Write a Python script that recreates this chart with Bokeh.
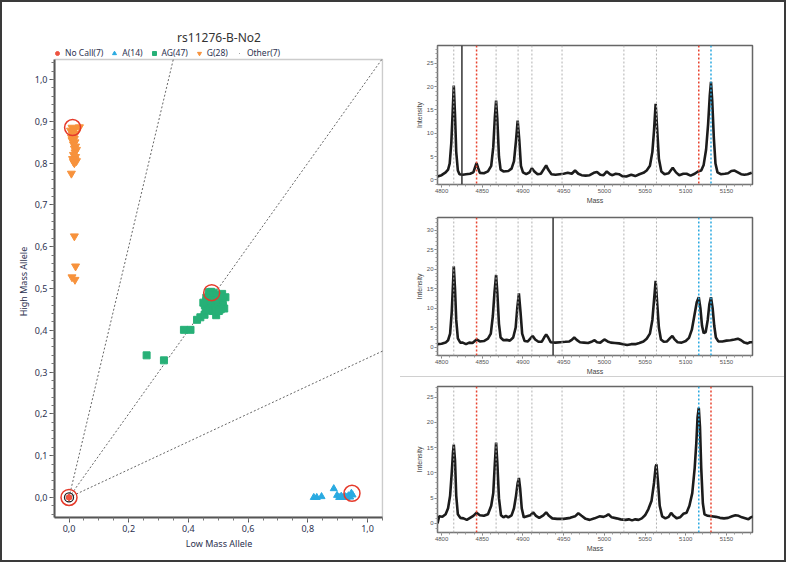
from bokeh.plotting import figure
from bokeh.models import (Legend, LegendItem, Span, SingleIntervalTicker, CustomJSTickFormatter,
                          BoxAnnotation)
from bokeh.layouts import row, column
from bokeh.embed import file_html
from bokeh.resources import INLINE

# ------------------------------------------------------------------ data
title_text = "rs11276-B-No2"
legend_labels = ["No Call(7)", "A(14)", "AG(47)", "G(28)", "Other(7)"]

nocall_x = [0, 0, 0, 0, 0, 0, 0]
nocall_y = [0, 0, 0, 0, 0, 0, 0]
other_x = [0, 0, 0, 0, 0, 0, 0]
other_y = [0, 0, 0, 0, 0, 0, 0]

a_x = [0.820, 0.830, 0.846, 0.887, 0.898, 0.905, 0.912, 0.918, 0.925, 0.930, 0.936, 0.942, 0.946, 0.950]
a_y = [0.000, 0.000, 0.002, 0.021, 0.005, 0.000, 0.003, 0.000, 0.002, 0.000, 0.004, 0.001, 0.010, 0.006]

ag_x = [0.260, 0.318, 0.385, 0.407, 0.429, 0.440, 0.454, 0.493,
        0.468, 0.476, 0.485, 0.513, 0.524,
        0.460, 0.470, 0.480, 0.490, 0.500, 0.505, 0.515,
        0.455, 0.465, 0.475, 0.485, 0.495, 0.505, 0.515, 0.520,
        0.458, 0.468, 0.478, 0.488, 0.498, 0.508,
        0.462, 0.472, 0.482, 0.492, 0.502,
        0.470, 0.480, 0.495, 0.506,
        0.460, 0.450, 0.490, 0.475]
ag_y = [0.340, 0.328, 0.401, 0.401, 0.425, 0.431, 0.437, 0.436,
        0.491, 0.492, 0.490, 0.487, 0.479,
        0.470, 0.475, 0.478, 0.480, 0.476, 0.470, 0.468,
        0.460, 0.462, 0.465, 0.468, 0.465, 0.460, 0.458, 0.452,
        0.452, 0.455, 0.455, 0.458, 0.455, 0.450,
        0.447, 0.448, 0.446, 0.449, 0.446,
        0.482, 0.486, 0.484, 0.481,
        0.478, 0.466, 0.472, 0.472]

g_x = [0.010, 0.020, 0.035, 0.005, 0.015, 0.012, 0.022, 0.008, 0.018, 0.010,
       0.020, 0.015, 0.022, 0.018, 0.025, 0.020, 0.015, 0.022, 0.012, 0.020,
       0.015, 0.025, 0.018, 0.008, 0.018, 0.022, 0.010, 0.020]
g_y = [0.885, 0.882, 0.886, 0.878, 0.875, 0.868, 0.870, 0.862, 0.858, 0.855,
       0.850, 0.845, 0.840, 0.835, 0.832, 0.826, 0.820, 0.815, 0.810, 0.808,
       0.803, 0.805, 0.800, 0.775, 0.625, 0.553, 0.527, 0.521]

highlight_x = [0.000, 0.012, 0.478, 0.948]
highlight_y = [0.000, 0.885, 0.490, 0.010]

cluster_slopes = [3.0, 1.0, 1.0 / 3.0]
axis_box = (-0.0486, 1.0503, -0.048, 1.048)   # left, right, bottom, top of the plot box

# spectra -------------------------------------------------------------
spec1_mass = [4795, 4800, 4805, 4808, 4810, 4812, 4813.5, 4815, 4816.5, 4818, 4820, 4822, 4826, 4830,
              4835, 4839, 4841, 4843, 4845, 4847, 4852, 4857, 4861, 4863.5, 4865.5, 4867, 4868.5,
              4870.5, 4872.5, 4876, 4882, 4886, 4889, 4891.5, 4893.5, 4895.5, 4897.5, 4900, 4904,
              4908, 4911, 4914, 4918, 4922, 4926, 4928.5, 4931, 4935, 4940, 4945, 4950, 4955, 4960,
              4964, 4968, 4972, 4977, 4982, 4987, 4991, 4995, 4999, 5003, 5007, 5010, 5014, 5018,
              5022, 5027, 5033, 5038, 5043, 5048, 5052, 5056, 5059, 5061, 5063, 5065, 5067, 5070,
              5074, 5079, 5084, 5088, 5092, 5097, 5101, 5106, 5111, 5115, 5119, 5122, 5125, 5127.5,
              5129.5, 5131, 5132.5, 5134.5, 5136.5, 5139, 5143, 5148, 5152, 5156, 5160, 5164, 5168,
              5172, 5176, 5181]
spec1_int = [0.7, 1.0, 1.6, 2.2, 3.5, 8, 14, 20.2, 14, 6, 2.0, 1.2, 1.1, 1.2,
             1.3, 1.6, 2.6, 3.6, 2.5, 1.5, 1.4, 1.8, 3, 7, 13.5, 17, 13,
             5, 2.2, 1.8, 1.9, 2.4, 4, 8.5, 12.7, 8.5, 3, 1.6, 1.2,
             1.6, 2.5, 1.8, 1.2, 1.3, 2.4, 3.1, 2.2, 1.2, 1.1, 1.2, 1.3, 1.5, 1.3,
             2.0, 1.3, 1.0, 0.9, 1.0, 1.5, 1.7, 1.1, 1.0, 1.8, 1.2, 1.0, 1.3, 1.2,
             0.8, 0.7, 1.1, 0.8, 1.2, 1.5, 2, 3, 6, 10.5, 16.3, 10.5, 4.5, 1.8,
             1.2, 1.4, 2.6, 1.6, 1.0, 1.3, 1.3, 0.9, 1.3, 1.8, 2.0, 3.2, 6.5, 12,
             18, 21, 17, 9, 3.5, 1.6, 1.2, 1.3, 1.4, 1.9, 2.0, 1.6, 1.2,
             1.1, 1.2, 1.5]

spec2_mass = [4795, 4800, 4805, 4808, 4810.5, 4812.5, 4814, 4815, 4816.5, 4818, 4820, 4823, 4826, 4830,
              4834, 4838, 4843, 4847, 4852, 4857, 4860.5, 4863, 4865, 4867, 4868.5, 4870.5, 4872.5,
              4876, 4880, 4884, 4888, 4891, 4893, 4895, 4897, 4899, 4902, 4906, 4909, 4912, 4915,
              4919, 4923, 4926, 4928.5, 4931, 4934, 4940, 4946, 4952, 4957, 4960, 4963, 4966, 4970,
              4975, 4980, 4985, 4988, 4991, 4995, 5000, 5004, 5008, 5013, 5018, 5023, 5028, 5033,
              5038, 5043, 5048, 5052, 5056, 5059, 5061, 5063, 5065, 5067, 5069.5, 5073, 5077, 5081,
              5083.5, 5086, 5090, 5095, 5100, 5104, 5107.5, 5110.5, 5113.5, 5116, 5118, 5120, 5122,
              5124.5, 5127, 5129, 5131, 5133, 5135, 5137, 5140, 5145, 5150, 5155, 5160, 5164, 5168,
              5172, 5176, 5179, 5182]
spec2_int = [0.8, 0.9, 1.2, 1.8, 3.5, 9, 16, 20.7, 15, 7, 2.3, 1.2, 1.2, 0.8,
             1.2, 1.1, 2.0, 1.5, 1.6, 2.2, 3.5, 8, 14, 18.5, 14, 6, 2.5,
             1.8, 1.9, 1.7, 2.5, 5, 10, 13.8, 9, 3.5, 1.6, 1.5, 2.2, 2.9, 2.0,
             1.4, 1.4, 2.5, 3.3, 2.5, 1.3, 1.2, 1.3, 1.4, 1.5, 1.9, 2.5, 1.9, 1.3,
             1.2, 1.1, 1.5, 1.8, 1.3, 1.2, 2.0, 1.5, 1.2, 1.1, 1.0, 0.8, 0.6, 0.8,
             0.8, 1.1, 1.5, 2.2, 3.5, 7, 12, 17, 11, 5, 2, 1.4, 1.5, 2.4,
             2.9, 2.1, 1.3, 1.2, 1.6, 2.4, 4.5, 8, 11.5, 12.8, 10, 5.5, 3.6,
             3.9, 7, 11, 12.8, 10, 5.5, 2.5, 1.5, 1.5, 1.7, 1.8, 2.0, 2.2, 1.8,
             1.2, 1.0, 1.3, 1.3]

spec3_mass = [4795, 4797, 4801, 4805, 4808, 4810.5, 4812.5, 4814, 4815, 4816.5, 4818, 4820, 4823, 4827,
              4831, 4835, 4839, 4843, 4847, 4852, 4857, 4861, 4863.5, 4865.5, 4867, 4868.5, 4870.5,
              4873, 4876, 4879, 4882, 4886, 4889, 4891.5, 4893.5, 4895, 4896.5, 4898.5, 4901, 4905,
              4909, 4912.5, 4916, 4920, 4925, 4928.5, 4932, 4936, 4942, 4950, 4958, 4964, 4968, 4972,
              4977, 4982, 4988, 4994, 4999, 5002, 5005, 5009, 5015, 5020, 5026, 5030, 5034, 5038,
              5042, 5046, 5050, 5054, 5058, 5061, 5063, 5064, 5066, 5068, 5071, 5075, 5079, 5082,
              5085, 5089, 5093, 5097, 5101, 5104.5, 5108, 5111, 5113, 5114.5, 5116, 5117.5, 5119,
              5121, 5123, 5127, 5132, 5137, 5142, 5147, 5152, 5157, 5161, 5165, 5169, 5173, 5177,
              5180, 5183]
spec3_int = [0.0, 1.4, 1.3, 1.8, 3.0, 5.5, 10, 14, 15.6, 12.5, 5.5, 1.8, 1.1, 1.0,
             0.7, 1.1, 1.5, 2.1, 1.6, 1.5, 1.8, 3.5, 6, 12, 16, 12, 5,
             1.6, 1.2, 1.5, 1.2, 1.6, 3, 5.5, 8, 9, 7, 3, 1.2, 1.4,
             1.6, 2.2, 1.5, 1.1, 1.6, 2.2, 1.5, 1.0, 0.9, 0.9, 1.1, 1.4, 2.0, 1.5,
             0.9, 0.7, 1.0, 1.4, 1.3, 1.5, 1.8, 1.2, 1.0, 0.8, 0.7, 0.8, 0.6, 0.8,
             0.7, 1.0, 1.6, 2.8, 4.5, 8, 11.2, 11.7, 8, 3.5, 1.4, 1.0, 1.3, 2.1,
             1.5, 1.0, 1.2, 1.9, 2.1, 3.5, 6, 11, 16, 21, 22.9, 19, 11,
             4, 1.8, 1.5, 1.4, 1.3, 1.1, 1.0, 1.1, 1.4, 1.6, 1.5, 1.2, 1.0, 0.8,
             1.2, 1.4]

expected_masses = [4815, 4867, 4894, 4911, 4948, 5024, 5064]
spec1_red, spec1_blue, spec1_cursor = [4843, 5116], [5131], [4825]
spec2_red, spec2_blue, spec2_cursor = [4843], [5116, 5131], [4937]
spec3_red, spec3_blue, spec3_cursor = [4843, 5131], [5116], []
mass_range = (4795, 5182)
spec1_yrange = (-1.0, 28.8)
spec2_yrange = (-2.1, 33.2)
spec3_yrange = (-1.8, 27.1)

# ------------------------------------------------------------------ style
RED = "#ee5340"
RING = "#e53a2b"
CYAN = "#29aae1"
GREEN = "#27b077"
ORANGE = "#f7923c"
TXT = "#2c3150"
FONT = "Noto Sans"
SFONT = "Liberation Sans"

# ------------------------------------------------------------------ scatter
p = figure(width=398, height=558, x_range=(axis_box[0], 1.0536), y_range=(axis_box[2], 1.0813),
           output_backend="svg", toolbar_location=None,
           min_border_left=52, min_border_right=17, min_border_top=43, min_border_bottom=43)
p.title.text = title_text
p.title.align = "center"
p.title.text_font = FONT
p.title.text_font_size = "12px"
p.title.text_font_style = "normal"
p.title.text_color = "#333333"
p.title.standoff = 0
p.grid.visible = False
p.outline_line_color = None

for ax in (p.xaxis[0], p.yaxis[0]):
    ax.formatter = CustomJSTickFormatter(code="return tick.toFixed(1).replace('.', ',');")
    ax.axis_line_color = "#555555"
    ax.axis_line_width = 2
    ax.major_tick_line_color = "#555555"
    ax.minor_tick_line_color = "#777777"
    ax.major_tick_out = 5
    ax.major_tick_in = 0
    ax.minor_tick_out = 3
    ax.minor_tick_in = 0
    ax.major_label_text_font = FONT
    ax.major_label_text_font_size = "9px"
    ax.major_label_text_color = TXT
    ax.major_label_standoff = 2
    ax.axis_label_text_font = FONT
    ax.axis_label_text_font_size = "9px"
    ax.axis_label_text_font_style = "normal"
    ax.axis_label_text_color = TXT
    ax.axis_label_standoff = 2
p.xaxis.ticker = SingleIntervalTicker(interval=0.2, num_minor_ticks=4)
p.yaxis.ticker = SingleIntervalTicker(interval=0.1, num_minor_ticks=5)
p.xaxis.bounds = (axis_box[0], axis_box[1])
p.yaxis.bounds = (axis_box[2], axis_box[3])
p.xaxis.axis_label = "Low Mass Allele"
p.yaxis.axis_label = "High Mass Allele"

p.add_layout(BoxAnnotation(left=axis_box[0], right=axis_box[1], bottom=axis_box[2], top=axis_box[3],
                           fill_alpha=0, line_color="#555555", line_width=1.5))

# cluster boundary lines from the origin to the edge of the plot box
line_end_x = [min(axis_box[1], axis_box[3] / s) for s in cluster_slopes]
line_end_y = [s * x for s, x in zip(cluster_slopes, line_end_x)]
p.segment(x0=[0, 0, 0], y0=[0, 0, 0], x1=line_end_x, y1=line_end_y,
          line_color="#666666", line_dash="2 2", line_width=1)

r_g = p.scatter(g_x, g_y, marker="inverted_triangle", size=8, color=ORANGE)
r_ag = p.scatter(ag_x, ag_y, marker="square", size=7, color=GREEN)
r_a = p.scatter(a_x, a_y, marker="triangle", size=7, color=CYAN)
r_other = p.scatter(other_x, other_y, marker="dot", size=8, color="#888888")
r_nc = p.scatter(nocall_x, nocall_y, marker="circle", size=5, color=RED)
p.scatter([highlight_x[0]], [highlight_y[0]], marker="circle", size=9, fill_color=None,
          line_color="#222222", line_width=1.3)
p.scatter(highlight_x, highlight_y, marker="circle", size=16, fill_color=None,
          line_color=RING, line_width=1.5)

legend = Legend(items=[LegendItem(label=legend_labels[0], renderers=[r_nc]),
                       LegendItem(label=legend_labels[1], renderers=[r_a]),
                       LegendItem(label=legend_labels[2], renderers=[r_ag]),
                       LegendItem(label=legend_labels[3], renderers=[r_g]),
                       LegendItem(label=legend_labels[4], renderers=[r_other])],
                orientation="horizontal", location=(-2, 459),
                border_line_color=None, background_fill_alpha=0,
                label_text_font=FONT, label_text_font_size="8.5px", label_text_color=TXT,
                glyph_width=10, glyph_height=10, label_height=10, label_standoff=3,
                spacing=6, padding=0, margin=0)
p.add_layout(legend, "center")


# ------------------------------------------------------------------ spectra
def spectrum(mass, inten, yr, reds, blues, cursor, width, height, bl, br, bt, bb, yint, styles=None):
    f = figure(width=width, height=height, x_range=mass_range, y_range=yr,
               output_backend="svg", toolbar_location=None,
               min_border_left=bl, min_border_right=br, min_border_top=bt, min_border_bottom=bb)
    if styles:
        f.styles = styles
    f.grid.visible = False
    f.outline_line_color = "#666666"
    f.outline_line_width = 1.5
    for m in expected_masses:
        f.add_layout(Span(location=m, dimension="height", line_color="#b0b0b0",
                          line_dash="2 2", line_width=1))
    for m in reds:
        f.add_layout(Span(location=m, dimension="height", line_color="#e8432f",
                          line_dash="2 2", line_width=1.5))
    for m in blues:
        f.add_layout(Span(location=m, dimension="height", line_color="#2aa9e0",
                          line_dash="2 2", line_width=1.5))
    for m in cursor:
        f.add_layout(Span(location=m, dimension="height", line_color="#333333",
                          line_width=1.5))
    f.line(mass, inten, line_color="#1c1c1c", line_width=2.6)
    for ax in (f.xaxis[0], f.yaxis[0]):
        ax.axis_line_color = "#777777"
        ax.major_tick_line_color = "#777777"
        ax.minor_tick_line_color = "#999999"
        ax.major_tick_out = 3
        ax.major_tick_in = 0
        ax.minor_tick_out = 2
        ax.minor_tick_in = 0
        ax.major_label_text_font = SFONT
        ax.major_label_text_font_size = "6px"
        ax.major_label_text_color = "#555555"
        ax.major_label_standoff = 1
        ax.axis_label_text_font = SFONT
        ax.axis_label_text_font_size = "7px"
        ax.axis_label_text_font_style = "normal"
        ax.axis_label_text_color = "#444444"
        ax.axis_label_standoff = 1
    f.xaxis.ticker = SingleIntervalTicker(interval=50, num_minor_ticks=5)
    f.yaxis.ticker = SingleIntervalTicker(interval=yint, num_minor_ticks=5)
    f.xaxis.axis_label = "Mass"
    f.yaxis.axis_label = "Intensity"
    return f


s1 = spectrum(spec1_mass, spec1_int, spec1_yrange, spec1_red, spec1_blue, spec1_cursor,
              384, 208, 37, 32, 43, 26, 5)
s2 = spectrum(spec2_mass, spec2_int, spec2_yrange, spec2_red, spec2_blue, spec2_cursor,
              384, 167, 37, 27, 7, 18, 5, styles={"border-bottom": "1px solid #d0d0d0"})
s3 = spectrum(spec3_mass, spec3_int, spec3_yrange, spec3_red, spec3_blue, spec3_cursor,
              384, 182, 36, 24, 9, 27, 5)

layout = row(p, column(s1, s2, s3),
             styles={"border": "2px solid #3a3a3a", "background-color": "white"})

open("out.html", "w").write(file_html(layout, INLINE))
